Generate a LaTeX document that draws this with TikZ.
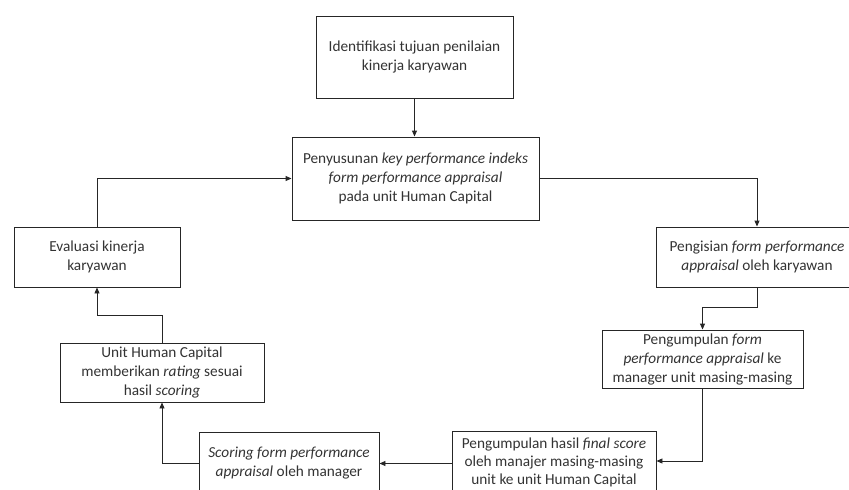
\documentclass[tikz,border=0pt]{standalone}
\usepackage{fontspec}
\setmainfont{Carlito}
\usetikzlibrary{arrows.meta}
\begin{document}
\begin{tikzpicture}[x=1pt,y=-1pt,
  box/.style={draw=black!85, line width=0.9pt, align=center, inner sep=0pt,
    font=\fontsize{15.3}{19}\selectfont, text=black!80},
  conn/.style={draw=black!85, line width=0.9pt, -{Triangle[length=6pt,width=5pt]}}]
\useasboundingbox (0,0) rectangle (849,490);
\clip (0,0) rectangle (849,490);
\node[box, minimum width=197, minimum height=82] (A) at (414.5,57)
  {Identifikasi tujuan penilaian\\kinerja karyawan};
\node[box, minimum width=247, minimum height=83] (B) at (415.5,178.5)
  {Penyusunan \textit{key performance indeks}\\\textit{form performance appraisal}\\pada unit Human Capital};
\node[box, minimum width=202, minimum height=60] (C) at (757,257)
  {Pengisian \textit{form performance}\\\textit{appraisal} oleh karyawan};
\node[box, minimum width=201, minimum height=58] (D) at (702.5,359)
  {Pengumpulan \textit{form}\\\textit{performance appraisal} ke\\manager unit masing-masing};
\node[box, minimum width=204, minimum height=63, font=\fontsize{15.3}{17.8}\selectfont] (E) at (554,462.5)
  {Pengumpulan hasil \textit{final score}\\oleh manajer masing-masing\\unit ke unit Human Capital};
\node[box, minimum width=180, minimum height=63] (F) at (289,463.5)
  {\textit{Scoring form performance}\\\textit{appraisal} oleh manager};
\node[box, minimum width=204, minimum height=59] (G) at (162,372.5)
  {Unit Human Capital\\memberikan \textit{rating} sesuai\\hasil \textit{scoring}};
\node[box, minimum width=166, minimum height=60] (H) at (97,257)
  {Evaluasi kinerja\\karyawan};

\draw[conn] (A.south) -- (A.south |- B.north);
\draw[conn] (B.east) -| (C.north);
\draw[conn] (C.south) -- ++(0,20) -| (D.north);
\draw[conn] (D.south) |- ([yshift=1.5pt]E.east);
\draw[conn] (E.west |- F.east) -- (F.east);
\draw[conn] (F.west) -| (G.south);
\draw[conn] (G.north) -- ++(0,-27) -| (H.south);
\draw[conn] (H.north) |- (B.west);
\end{tikzpicture}
\end{document}
